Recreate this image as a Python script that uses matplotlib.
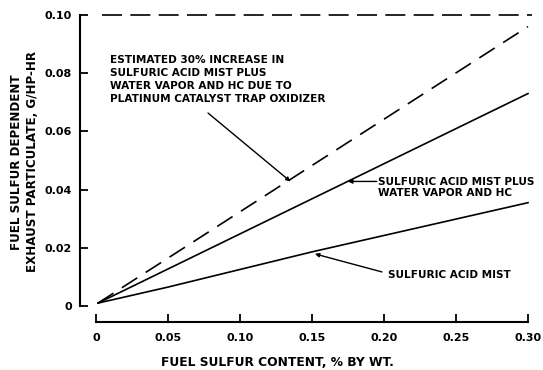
import matplotlib
matplotlib.use("Agg")
import matplotlib.pyplot as plt

# Data
x_line = [0.0014, 0.30]
y_limit = [0.10, 0.10]
x_limit = [0.004, 0.303]
y_est30 = [0.001, 0.096]      # estimated 30% increase (dashed)
y_mist_plus = [0.001, 0.073]  # sulfuric acid mist plus water vapor and HC
x_mist = [0.0014, 0.05, 0.15, 0.30]
y_mist = [0.001, 0.0065, 0.0186, 0.0355]  # sulfuric acid mist

xticks = [0, 0.05, 0.10, 0.15, 0.20, 0.25, 0.30]
xticklabels = ["0", "0.05", "0.10", "0.15", "0.20", "0.25", "0.30"]
yticks = [0, 0.02, 0.04, 0.06, 0.08, 0.10]
yticklabels = ["0", "0.02", "0.04", "0.06", "0.08", "0.10"]

W, H = 543, 370
fig = plt.figure(figsize=(W / 100, H / 100), dpi=100)

# axes placement in pixels
px_left, px_right, px_top, px_bottom = 80, 532, 10.6, 322
ax = fig.add_axes([px_left / W, (H - px_bottom) / H,
                   (px_right - px_left) / W, (px_bottom - px_top) / H])
ax.set_xlim(-16 / 1440, 0.30 + 4 / 1440)
ax.set_ylim(-16 / 2910, 0.1015)

lw = 1.2
ax.plot(x_limit, y_limit, color="black", lw=lw, dashes=(12, 5))
ax.plot(x_line, y_est30, color="black", lw=lw, dashes=(11, 6))
ax.plot(x_line, y_mist_plus, color="black", lw=lw)
ax.plot(x_mist, y_mist, color="black", lw=lw)

for s in ["top", "right"]:
    ax.spines[s].set_visible(False)
ax.spines["left"].set_bounds(0, 0.10)
ax.spines["bottom"].set_bounds(0, 0.30)
ax.spines["left"].set_linewidth(1.5)
ax.spines["bottom"].set_linewidth(1.5)

ax.set_xticks(xticks)
ax.set_xticklabels(xticklabels)
ax.set_yticks(yticks)
ax.set_yticklabels(yticklabels)
ax.tick_params(direction="in", length=6, width=1.3, labelsize=8, pad=6)
ax.tick_params(axis="x", pad=8)
for lab in ax.get_xticklabels() + ax.get_yticklabels():
    lab.set_fontweight("bold")

fs = 7.6
ax.text(0.0097, 0.0862,
        "ESTIMATED 30% INCREASE IN\nSULFURIC ACID MIST PLUS\nWATER VAPOR AND HC DUE TO\nPLATINUM CATALYST TRAP OXIDIZER",
        fontsize=fs, fontweight="bold", va="top", ha="left", linespacing=1.35)
ax.annotate("", xy=(0.135, 0.0428), xytext=(0.0778, 0.0663),
            arrowprops=dict(arrowstyle="-|>", color="black", lw=1.0,
                            mutation_scale=6, shrinkA=0, shrinkB=0))

ax.text(0.1958, 0.0408, "SULFURIC ACID MIST PLUS\nWATER VAPOR AND HC",
        fontsize=fs, fontweight="bold", va="center", ha="left", linespacing=1.1)
ax.annotate("", xy=(0.175, 0.0428), xytext=(0.195, 0.0428),
            arrowprops=dict(arrowstyle="-|>", color="black", lw=1.0,
                            mutation_scale=6, shrinkA=0, shrinkB=0))

ax.text(0.2028, 0.0107, "SULFURIC ACID MIST",
        fontsize=fs, fontweight="bold", va="center", ha="left")
ax.annotate("", xy=(0.152, 0.0179), xytext=(0.1986, 0.0117),
            arrowprops=dict(arrowstyle="-|>", color="black", lw=1.0,
                            mutation_scale=6, shrinkA=0, shrinkB=0))

fig.text(277 / W, 1 - 362 / H, "FUEL SULFUR CONTENT, % BY WT.",
         fontsize=8.8, fontweight="bold", ha="center", va="center")
fig.text(17 / W, 1 - 162 / H, "FUEL SULFUR DEPENDENT",
         fontsize=8.6, fontweight="bold", ha="center", va="center", rotation=90)
fig.text(33 / W, 1 - 162 / H, "EXHAUST PARTICULATE, G/HP-HR",
         fontsize=8.6, fontweight="bold", ha="center", va="center", rotation=90)

fig.savefig("out.png", dpi=100)
